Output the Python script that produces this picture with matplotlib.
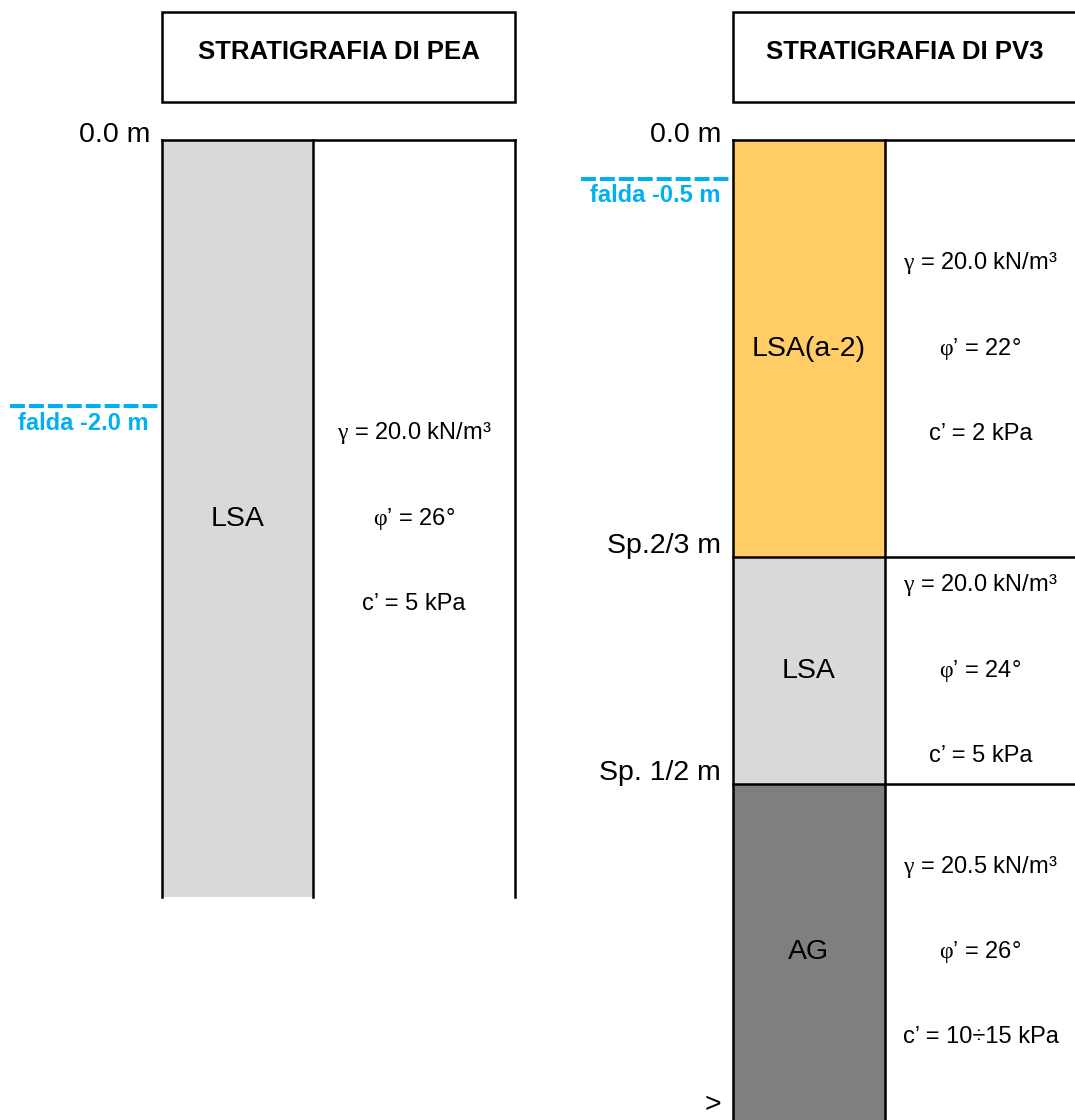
import matplotlib
matplotlib.use('Agg')
import matplotlib.pyplot as plt
from matplotlib.patches import Rectangle

plt.rcParams['font.family'] = ['Liberation Sans', 'DejaVu Sans']
plt.rcParams['mathtext.fontset'] = 'custom'
plt.rcParams['mathtext.rm'] = 'Liberation Serif'
plt.rcParams['mathtext.it'] = 'Liberation Serif'

# --- dati (profondita' schematiche, in unita' di disegno sotto il piano campagna)
pea_title = 'STRATIGRAFIA DI PEA'
pea_layers = ['LSA']
pea_bottoms = [757]
pea_colors = ['#D9D9D9']
pea_gamma = ['20.0']
pea_phi = ['26']
pea_c = ['5']
pea_falda = 266
pea_falda_label = 'falda -2.0 m'
pea_depth_labels = ['0.0 m']

pv3_title = 'STRATIGRAFIA DI PV3'
pv3_layers = ['LSA(a-2)', 'LSA', 'AG']
pv3_bottoms = [417, 644, 980]
pv3_colors = ['#FFCC66', '#D9D9D9', '#7F7F7F']
pv3_gamma = ['20.0', '20.0', '20.5']
pv3_phi = ['22', '24', '26']
pv3_c = ['2', '5', '10÷15']
pv3_falda = 39
pv3_falda_label = 'falda -0.5 m'
pv3_depth_labels = ['0.0 m', 'Sp.2/3 m', 'Sp. 1/2 m', '>']

# --- layout
fig = plt.figure(figsize=(10.75, 11.2), dpi=100)
ax = fig.add_axes([0, 0, 1, 1])
ax.set_xlim(0, 1075)
ax.set_ylim(1120, 0)
ax.axis('off')

TOP = 140
LW = 1.8
BLUE = '#00B0F0'


def draw_column(x0, x1, x2, title, layers, bottoms, colors, gam, phi, coh,
                falda, falda_label, depth_labels):
    # riquadro del titolo
    ax.add_patch(Rectangle((x0, 12), x2 - x0, 90, fill=False, ec='black', lw=LW))
    ax.text((x0 + x2) / 2, 52, title, ha='center', va='center',
            fontsize=18.5, fontweight='bold')

    tops = [0] + bottoms[:-1]
    for i, name in enumerate(layers):
        y_top = TOP + tops[i]
        y_bot = TOP + bottoms[i]
        ax.add_patch(Rectangle((x0, y_top), x1 - x0, y_bot - y_top,
                               fc=colors[i], ec='none'))
        ax.plot([x0, x2], [y_top, y_top], color='black', lw=LW)
        ym = (y_top + y_bot) / 2
        ax.text((x0 + x1) / 2, ym, name, ha='center', va='center', fontsize=20.5)
        xm = (x1 + x2) / 2
        ax.text(xm, ym - 85, f'$\\gamma$ = {gam[i]} kN/m³', ha='center',
                va='center', fontsize=17)
        ax.text(xm, ym, f'$\\varphi$’ = {phi[i]}°', ha='center',
                va='center', fontsize=17)
        ax.text(xm, ym + 85, f'c’ = {coh[i]} kPa', ha='center',
                va='center', fontsize=17)

    y_end = TOP + bottoms[-1]
    for x in (x0, x1, x2):
        ax.plot([x, x], [TOP, y_end], color='black', lw=LW)

    # quote
    ax.text(x0 - 12, TOP + 2, depth_labels[0], ha='right', va='baseline',
            fontsize=20.5)
    for lab, b in zip(depth_labels[1:len(layers)], bottoms[:-1]):
        ax.text(x0 - 12, TOP + b + 2, lab, ha='right', va='bottom',
                fontsize=20.5)
    if len(depth_labels) > len(layers):
        ax.text(x0 - 12, y_end - 15, depth_labels[-1], ha='right',
                va='center', fontsize=20.5)

    # falda
    yf = TOP + falda
    ax.plot([x0 - 152, x0 - 2], [yf, yf], color=BLUE, lw=2.9,
            linestyle=(0, (3.7, 1.0)))
    ax.text(x0 - 13, yf + 17, falda_label, ha='right', va='center',
            fontsize=17, fontweight='bold', color=BLUE)


draw_column(162, 313, 515, pea_title, pea_layers, pea_bottoms, pea_colors,
            pea_gamma, pea_phi, pea_c, pea_falda, pea_falda_label,
            pea_depth_labels)
draw_column(733, 885, 1076, pv3_title, pv3_layers, pv3_bottoms, pv3_colors,
            pv3_gamma, pv3_phi, pv3_c, pv3_falda, pv3_falda_label,
            pv3_depth_labels)

fig.savefig('out.png', dpi=100)
